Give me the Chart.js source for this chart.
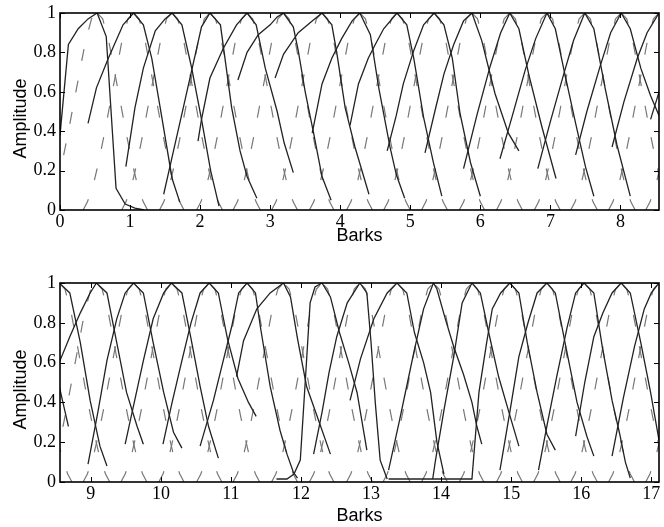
<!DOCTYPE html>
<html>
<head>
<meta charset="utf-8">
<script src="https://cdn.jsdelivr.net/npm/chart.js@4.4.0/dist/chart.umd.min.js"></script>
<style>
  body { margin: 0; background: #fff; }
  #wrap { position: relative; width: 664px; height: 527px; }
  canvas { position: absolute; left: 0; }
</style>
</head>
<body>
<div id="wrap">
  <canvas id="topChart" width="664" height="260" style="top:0px"></canvas>
  <canvas id="bottomChart" width="664" height="267" style="top:260px"></canvas>
</div>
<script>
// tick labels
const xTicksTop = [0, 1, 2, 3, 4, 5, 6, 7, 8];
const xTicksBottom = [9, 10, 11, 12, 13, 14, 15, 16, 17];
const yTicks = [0, 0.2, 0.4, 0.6, 0.8, 1];

// solid filters (barks / amplitude)
const solidX = [
  [0.00, 0.12, 0.26, 0.40, 0.53, 0.66, 0.80, 0.93, 1.07, 1.20],
  [0.40, 0.52, 0.69, 0.90, 1.05, 1.19, 1.31, 1.43, 1.60, 1.71],
  [0.94, 1.07, 1.19, 1.36, 1.50, 1.60, 1.74, 1.88, 2.02, 2.15, 2.27],
  [1.48, 1.62, 1.76, 1.90, 2.02, 2.14, 2.29, 2.45, 2.57, 2.67, 2.81],
  [1.97, 2.02, 2.14, 2.33, 2.52, 2.67, 2.80, 2.93, 3.10, 3.20, 3.33],
  [2.54, 2.67, 2.83, 3.00, 3.10, 3.19, 3.33, 3.40, 3.50, 3.62, 3.74, 3.87],
  [3.07, 3.19, 3.40, 3.60, 3.74, 3.88, 3.95, 4.07, 4.21, 4.41],
  [3.60, 3.74, 3.88, 4.02, 4.17, 4.28, 4.43, 4.55, 4.71, 4.80, 4.92],
  [4.14, 4.26, 4.40, 4.50, 4.62, 4.81, 4.95, 5.05, 5.19, 5.33, 5.45],
  [4.67, 4.80, 4.90, 5.05, 5.19, 5.34, 5.48, 5.60, 5.71, 5.86, 6.00],
  [5.21, 5.35, 5.48, 5.62, 5.76, 5.88, 6.02, 6.21, 6.40, 6.55],
  [5.76, 5.95, 6.14, 6.29, 6.42, 6.55, 6.69, 6.88, 7.08],
  [6.28, 6.45, 6.64, 6.79, 6.95, 7.07, 7.20, 7.36, 7.50, 7.62],
  [6.82, 7.00, 7.19, 7.33, 7.49, 7.62, 7.78, 7.95, 8.14],
  [7.36, 7.52, 7.71, 7.86, 8.01, 8.14, 8.29, 8.43, 8.55, 8.68],
  [7.88, 8.05, 8.24, 8.38, 8.55, 8.70, 8.85, 8.99, 9.13, 9.23],
  [8.43, 8.56, 8.70, 8.85, 8.99, 9.08, 9.23, 9.37, 9.51, 9.66, 9.75],
  [8.96, 9.10, 9.23, 9.37, 9.49, 9.61, 9.75, 9.89, 10.04, 10.18, 10.30],
  [9.49, 9.62, 9.75, 9.89, 10.04, 10.15, 10.30, 10.43, 10.56, 10.68, 10.82],
  [10.03, 10.16, 10.30, 10.43, 10.56, 10.69, 10.82, 10.95, 11.10, 11.25, 11.36],
  [10.56, 10.75, 10.89, 11.01, 11.11, 11.23, 11.35, 11.42, 11.56, 11.70, 11.80, 11.89, 11.95],
  [11.08, 11.18, 11.37, 11.56, 11.75, 11.85, 11.95, 12.08, 12.23, 12.42],
  [11.65, 11.80, 11.90, 11.99, 12.06, 12.13, 12.20, 12.30, 12.42, 12.55, 12.68, 12.80, 12.94],
  [12.18, 12.30, 12.40, 12.51, 12.66, 12.84, 12.94, 13.00, 13.06, 13.13, 13.23],
  [12.70, 12.85, 13.04, 13.23, 13.37, 13.51, 13.62, 13.75, 13.85, 13.94, 14.04],
  [13.25, 13.40, 13.52, 13.61, 13.75, 13.89, 13.94, 14.06, 14.18, 14.32, 14.44, 14.51, 14.58],
  [13.88, 13.92, 14.05, 14.18, 14.30, 14.44, 14.56, 14.68, 14.82, 14.96, 15.11],
  [13.25, 13.60, 14.00, 14.30, 14.44, 14.54, 14.65, 14.73, 14.85, 14.98, 15.11, 15.23, 15.37, 15.51, 15.63],
  [14.84, 14.98, 15.11, 15.24, 15.37, 15.51, 15.63, 15.78, 15.94, 16.08, 16.18],
  [15.39, 15.52, 15.65, 15.80, 15.92, 16.04, 16.18, 16.30, 16.44, 16.55, 16.63, 16.70],
  [15.92, 16.05, 16.18, 16.31, 16.44, 16.57, 16.70, 16.85, 16.99, 17.11, 17.20],
  [16.44, 16.60, 16.76, 16.90, 17.00, 17.11]
];
const solidY = [
  [0.38, 0.84, 0.92, 0.97, 1.00, 0.88, 0.11, 0.03, 0.01, 0.00],
  [0.44, 0.62, 0.77, 0.94, 1.00, 0.94, 0.77, 0.52, 0.16, 0.04],
  [0.22, 0.52, 0.72, 0.91, 0.97, 1.00, 0.94, 0.72, 0.46, 0.20, 0.02],
  [0.08, 0.30, 0.52, 0.74, 0.93, 1.00, 0.94, 0.52, 0.30, 0.17, 0.06],
  [0.35, 0.46, 0.67, 0.82, 0.94, 1.00, 0.94, 0.72, 0.50, 0.34, 0.19],
  [0.66, 0.80, 0.89, 0.94, 0.98, 1.00, 0.93, 0.81, 0.60, 0.39, 0.17, 0.05],
  [0.67, 0.79, 0.90, 0.96, 1.00, 0.94, 0.80, 0.52, 0.32, 0.08],
  [0.39, 0.64, 0.77, 0.87, 0.96, 1.00, 0.89, 0.62, 0.32, 0.18, 0.06],
  [0.43, 0.64, 0.77, 0.84, 0.92, 1.00, 0.94, 0.77, 0.47, 0.24, 0.07],
  [0.30, 0.48, 0.64, 0.81, 0.94, 1.00, 0.94, 0.77, 0.49, 0.24, 0.07],
  [0.29, 0.50, 0.69, 0.84, 0.96, 1.00, 0.86, 0.59, 0.39, 0.30],
  [0.21, 0.48, 0.73, 0.90, 1.00, 0.92, 0.69, 0.42, 0.16],
  [0.26, 0.47, 0.71, 0.87, 1.00, 0.92, 0.70, 0.44, 0.22, 0.07],
  [0.21, 0.45, 0.69, 0.86, 1.00, 0.92, 0.62, 0.33, 0.07],
  [0.28, 0.50, 0.73, 0.90, 1.00, 0.92, 0.72, 0.58, 0.48, 0.28],
  [0.32, 0.55, 0.77, 0.90, 1.00, 0.95, 0.70, 0.41, 0.18, 0.08],
  [0.46, 0.61, 0.73, 0.85, 0.95, 1.00, 0.95, 0.70, 0.45, 0.28, 0.19],
  [0.09, 0.35, 0.61, 0.82, 0.95, 1.00, 0.95, 0.70, 0.45, 0.25, 0.17],
  [0.19, 0.40, 0.61, 0.82, 0.95, 1.00, 0.95, 0.72, 0.48, 0.28, 0.12],
  [0.19, 0.40, 0.61, 0.80, 0.95, 1.00, 0.95, 0.72, 0.52, 0.40, 0.33],
  [0.18, 0.41, 0.61, 0.78, 0.95, 1.00, 0.95, 0.78, 0.48, 0.26, 0.14, 0.05, 0.02],
  [0.53, 0.71, 0.87, 0.95, 1.00, 0.93, 0.72, 0.48, 0.33, 0.14],
  [0.015, 0.015, 0.04, 0.11, 0.50, 0.90, 0.98, 1.00, 0.93, 0.75, 0.60, 0.45, 0.16],
  [0.14, 0.35, 0.55, 0.73, 0.90, 1.00, 0.95, 0.70, 0.40, 0.11, 0.015],
  [0.41, 0.62, 0.82, 0.95, 1.00, 0.95, 0.75, 0.60, 0.45, 0.20, 0.04],
  [0.06, 0.30, 0.50, 0.65, 0.87, 1.00, 0.97, 0.82, 0.68, 0.54, 0.40, 0.28, 0.19],
  [0.015, 0.11, 0.38, 0.63, 0.90, 1.00, 0.95, 0.75, 0.53, 0.36, 0.18],
  [0.015, 0.015, 0.015, 0.015, 0.015, 0.45, 0.70, 0.87, 0.95, 1.00, 0.95, 0.70, 0.45, 0.24, 0.16],
  [0.06, 0.35, 0.63, 0.80, 0.95, 1.00, 0.95, 0.68, 0.40, 0.23, 0.13],
  [0.06, 0.30, 0.53, 0.78, 0.95, 1.00, 0.95, 0.68, 0.41, 0.24, 0.10, 0.02],
  [0.23, 0.50, 0.73, 0.85, 0.95, 1.00, 0.95, 0.70, 0.45, 0.21, 0.10],
  [0.13, 0.42, 0.68, 0.87, 0.95, 1.00]
];

// dashed reference filters: centre of each one (barks)
const dashPeak = [0.53, 1.05, 1.60, 2.14, 2.67, 3.19, 3.74, 4.28, 4.81, 5.34, 5.88, 6.42, 6.95, 7.49, 8.01, 8.55, 9.08, 9.61, 10.15, 10.69, 11.23, 11.75, 12.30, 12.84, 13.37, 13.89, 14.44, 14.98, 15.51, 16.04, 16.57, 17.11, 17.64];
// shape of one dashed filter side: distance from centre (barks) and amplitude
const dashOffset = [0.72, 0.66, 0.58, 0.50, 0.42, 0.33, 0.25, 0.17, 0.08, 0.00];
const dashAmp    = [0.00, 0.04, 0.12, 0.24, 0.38, 0.55, 0.70, 0.85, 0.97, 1.00];

function buildDatasets() {
  let sets = [];
  solidX.forEach((xs, i) => {
    sets.push({
      data: xs.map((v, j) => ({ x: v, y: solidY[i][j] })),
      borderColor: '#222',
      borderWidth: 1.3
    });
  });
  dashPeak.forEach(p => {
    // each side starts at its foot so the dash pattern begins at the bottom
    sets.push({
      data: dashOffset.map((d, j) => ({ x: p - d, y: dashAmp[j] })),
      borderColor: '#777', borderWidth: 1.2, borderDash: [12, 20]
    });
    sets.push({
      data: dashOffset.map((d, j) => ({ x: p + d, y: dashAmp[j] })),
      borderColor: '#777', borderWidth: 1.2, borderDash: [12, 20]
    });
  });
  return sets;
}

// black box, inward ticks and the y title, MATLAB style
const frame = {
  id: 'frame',
  afterDatasetsDraw(chart) {
    const { ctx, chartArea: a, scales: { x, y } } = chart;
    ctx.save();
    ctx.strokeStyle = '#000';
    ctx.lineWidth = 1;
    ctx.beginPath();
    x.ticks.forEach(t => {
      const px = Math.round(x.getPixelForValue(t.value)) + 0.5;
      ctx.moveTo(px, a.bottom); ctx.lineTo(px, a.bottom - 5);
      ctx.moveTo(px, a.top); ctx.lineTo(px, a.top + 5);
    });
    y.ticks.forEach(t => {
      const py = Math.round(y.getPixelForValue(t.value)) + 0.5;
      ctx.moveTo(a.left, py); ctx.lineTo(a.left + 5, py);
      ctx.moveTo(a.right, py); ctx.lineTo(a.right - 5, py);
    });
    ctx.stroke();
    ctx.lineWidth = 1.6;
    ctx.strokeRect(a.left, a.top, a.right - a.left, a.bottom - a.top);

    // y title sits a little below the middle of the axis in the original
    ctx.translate(21, (a.top + a.bottom) / 2 + 7);
    ctx.rotate(-Math.PI / 2);
    ctx.fillStyle = '#000';
    ctx.font = '18px "Liberation Sans"';
    ctx.textAlign = 'center';
    ctx.textBaseline = 'middle';
    ctx.fillText('Amplitude', 0, 0);
    ctx.restore();
  }
};

function makeChart(id, xmin, xmax, xTicks, padTop, axisHeight, titlePad) {
  return new Chart(document.getElementById(id), {
    type: 'line',
    data: { datasets: buildDatasets() },
    options: {
      responsive: false,
      animation: false,
      events: [],
      layout: { padding: { left: 0, right: 5, top: padTop, bottom: 0 } },
      elements: { point: { radius: 0 }, line: { tension: 0, fill: false } },
      plugins: { legend: { display: false }, tooltip: { enabled: false } },
      scales: {
        x: {
          type: 'linear', min: xmin, max: xmax,
          grid: { display: false, drawTicks: false },
          border: { display: false },
          afterBuildTicks: s => { s.ticks = xTicks.map(v => ({ value: v })); },
          afterFit: s => { s.height = axisHeight; },
          ticks: {
            color: '#000', padding: 3, maxRotation: 0, autoSkip: false,
            font: { family: 'Liberation Serif', size: 18, lineHeight: 1 },
            callback: v => String(v)
          },
          title: {
            display: true, text: 'Barks', color: '#000',
            font: { family: 'Liberation Sans', size: 18 },
            padding: { top: 0, bottom: titlePad }
          }
        },
        y: {
          type: 'linear', min: 0, max: 1,
          grid: { display: false, drawTicks: false },
          border: { display: false },
          afterBuildTicks: s => { s.ticks = yTicks.map(v => ({ value: v })); },
          afterFit: s => { s.width = 60; },
          ticks: {
            color: '#000', padding: 4,
            font: { family: 'Liberation Serif', size: 18, lineHeight: 1 },
            callback: v => String(v)
          }
        }
      }
    },
    plugins: [frame]
  });
}

makeChart('topChart', 0, 8.55, xTicksTop, 10, 50, 13);
makeChart('bottomChart', 8.56, 17.11, xTicksBottom, 23, 45, 0);
</script>
</body>
</html>
